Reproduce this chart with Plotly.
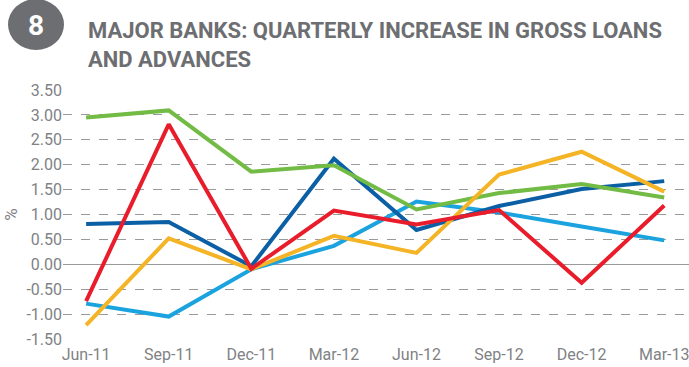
import plotly.graph_objects as go

categories = ["Jun-11", "Sep-11", "Dec-11", "Mar-12", "Jun-12", "Sep-12", "Dec-12", "Mar-13"]
light_blue = [-0.79, -1.05, -0.10, 0.37, 1.26, 1.04, 0.76, 0.48]
dark_blue = [0.81, 0.85, -0.04, 2.12, 0.69, 1.17, 1.51, 1.67]
green = [2.95, 3.09, 1.86, 1.99, 1.10, 1.43, 1.61, 1.34]
yellow = [-1.22, 0.52, -0.10, 0.57, 0.23, 1.80, 2.26, 1.46]
red = [-0.74, 2.81, -0.09, 1.08, 0.80, 1.09, -0.37, 1.18]
y_ticks = [-1.5, -1.0, -0.5, 0.0, 0.5, 1.0, 1.5, 2.0, 2.5, 3.0, 3.5]

series = [
    ("Light blue", light_blue, "#1aa3de"),
    ("Dark blue", dark_blue, "#0b5fa5"),
    ("Green", green, "#72bb44"),
    ("Yellow", yellow, "#f4b425"),
    ("Red", red, "#e91c2b"),
]

FONT = "Roboto, Liberation Sans Narrow, sans-serif"
GREY = "#808285"

W, H = 689, 367
L, R, T, B = 63, 0, 90, 28
PW, PH = W - L - R, H - T - B


def px(x):
    return (x - L) / PW


def py(y):
    return (H - B - y) / PH


fig = go.Figure()
for name, vals, col in series:
    fig.add_trace(go.Scatter(x=list(range(len(categories))), y=vals, mode="lines",
                             name=name, line=dict(color=col, width=4)))

fig.update_layout(
    width=W, height=H,
    margin=dict(l=L, r=R, t=T, b=B),
    paper_bgcolor="white", plot_bgcolor="white",
    showlegend=False,
    font=dict(family=FONT, color=GREY, size=16),
    xaxis=dict(range=[-0.28, 7.30], tickmode="array",
               tickvals=list(range(len(categories))), ticktext=categories,
               showgrid=False, zeroline=False, showline=False, ticks="",
               ticklabeloverflow="allow", ticklabelstandoff=4,
               tickfont=dict(size=16, color=GREY)),
    yaxis=dict(range=[-1.5, 3.5], tickmode="array", tickvals=y_ticks,
               ticktext=[f"{v:.2f}" for v in y_ticks],
               showgrid=True, gridcolor="#9a9a9a", griddash="dash", gridwidth=1,
               zeroline=True, zerolinecolor="#9a9a9a", zerolinewidth=1,
               showline=False, ticks="", tickfont=dict(size=16, color=GREY),
               title=dict(text="%", font=dict(size=17, color=GREY), standoff=4)),
)

fig.add_shape(type="circle", xref="paper", yref="paper",
              x0=px(8), x1=px(64), y0=py(50), y1=py(-1),
              fillcolor="#6d6e71", line=dict(width=0), layer="above")
fig.add_annotation(text="<b>8</b>", xref="paper", yref="paper",
                   x=px(36), y=py(25), xanchor="center", yanchor="middle",
                   showarrow=False,
                   font=dict(family=FONT, size=28, color="white"))
fig.add_annotation(text="<b>MAJOR BANKS: QUARTERLY INCREASE IN GROSS LOANS<br>AND ADVANCES</b>",
                   xref="paper", yref="paper", x=px(86), y=py(16),
                   xanchor="left", yanchor="top", align="left", showarrow=False,
                   font=dict(family=FONT, size=22, color="#6d6e71"))

fig.write_html("out.html")
